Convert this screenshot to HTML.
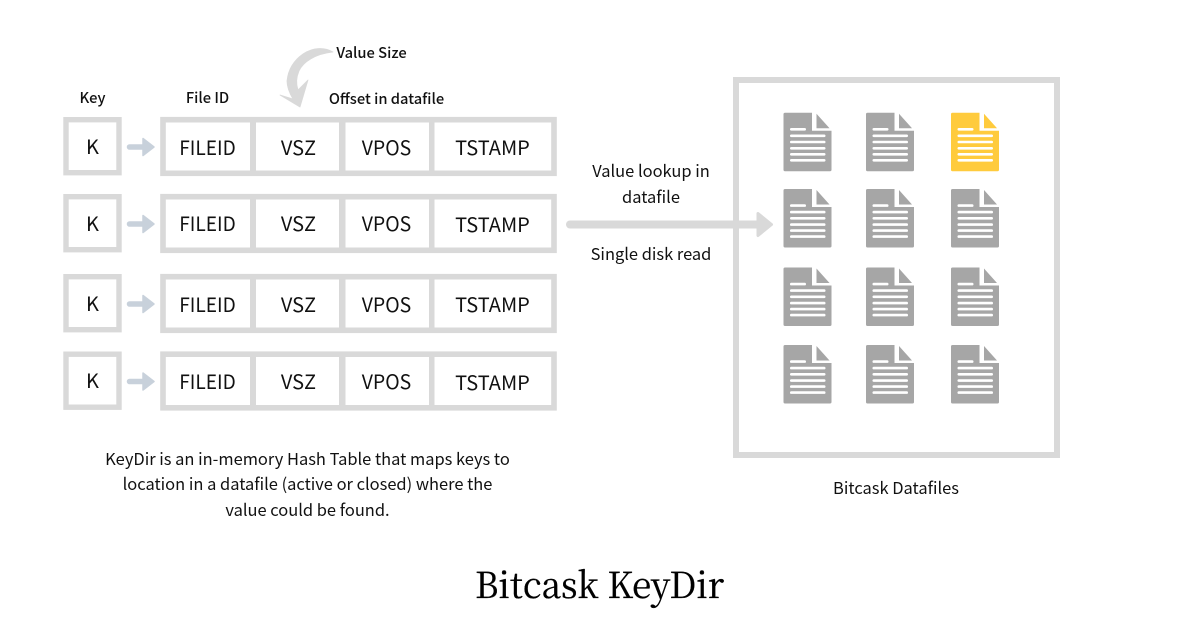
<!DOCTYPE html>
<html><head><meta charset="utf-8"><style>
html,body{margin:0;padding:0;background:#fff;width:1200px;height:628px;overflow:hidden}
svg{display:block}
text{font-family:"Noto Sans CJK JP","Liberation Sans",sans-serif;fill:#111;text-anchor:middle}
.b{font-size:14.7px;font-weight:500}
.c{font-size:20px}
.m{font-size:16.45px}
.t{font-family:"Noto Serif CJK SC","DejaVu Serif",serif;font-size:36px;fill:#000;stroke:#000;stroke-width:0.35px}
</style></head><body>
<svg width="1200" height="628" viewBox="0 0 1200 628" xmlns="http://www.w3.org/2000/svg">
<defs>
<g id="row">
<rect x="66" y="2.7" width="53" height="53" fill="none" stroke="#d9d9d9" stroke-width="5.4"/>
<rect x="163" y="2.7" width="391" height="53.6" fill="none" stroke="#d9d9d9" stroke-width="5.6"/>
<rect x="250" y="0" width="6" height="59" fill="#d9d9d9"/>
<rect x="339" y="0" width="6.5" height="59" fill="#d9d9d9"/>
<rect x="429" y="0" width="5.5" height="59" fill="#d9d9d9"/>
<path d="M129.5 30H143" stroke="#c8d1db" stroke-width="5.5" stroke-linecap="round"/>
<path d="M143 21.5L154 30L143 38.5Z" fill="#c8d1db" stroke="#c8d1db" stroke-width="1.5" stroke-linejoin="round"/>
</g>
<g id="doc">
<path d="M1 0H28.5V18H48V57a1.5 1.5 0 0 1-1.500 1.500H1.500A1.500 1.500 0 0 1 0 57V1.500A1.500 1.500 0 0 1 1.500 0Z"/>
<path d="M33 1L46 15.500H33Z"/>
<g fill="#fff">
<rect x="6.500" y="15.300" width="16" height="2.600" rx="1.300"/>
<rect x="6.500" y="21.800" width="35.500" height="2.600" rx="1.300"/>
<rect x="6.500" y="28" width="35.500" height="2.600" rx="1.300"/>
<rect x="6.500" y="34.300" width="35.500" height="2.600" rx="1.300"/>
<rect x="6.500" y="40.300" width="35.500" height="2.600" rx="1.300"/>
<rect x="6.500" y="46.300" width="35.500" height="2.600" rx="1.300"/>
</g>
</g>
</defs>

<use href="#row" y="117"/>
<use href="#row" y="194"/>
<use href="#row" y="274"/>
<use href="#row" y="351.500"/>

<g class="c">
<text x="92.500" y="154">K</text><text x="207.500" y="155" textLength="56.500" lengthAdjust="spacingAndGlyphs">FILEID</text><text x="298.500" y="155">VSZ</text><text x="386.500" y="155" textLength="49.500" lengthAdjust="spacingAndGlyphs">VPOS</text><text x="492.500" y="155">TSTAMP</text>
<text x="92.500" y="231">K</text><text x="207.500" y="231" textLength="56.500" lengthAdjust="spacingAndGlyphs">FILEID</text><text x="298.500" y="231">VSZ</text><text x="386.500" y="231" textLength="49.500" lengthAdjust="spacingAndGlyphs">VPOS</text><text x="492.500" y="232">TSTAMP</text>
<text x="92.500" y="311">K</text><text x="207.500" y="312" textLength="56.500" lengthAdjust="spacingAndGlyphs">FILEID</text><text x="298.500" y="312">VSZ</text><text x="386.500" y="312" textLength="49.500" lengthAdjust="spacingAndGlyphs">VPOS</text><text x="492.500" y="312">TSTAMP</text>
<text x="92.500" y="388">K</text><text x="207.500" y="389" textLength="56.500" lengthAdjust="spacingAndGlyphs">FILEID</text><text x="298.500" y="389">VSZ</text><text x="386.500" y="389" textLength="49.500" lengthAdjust="spacingAndGlyphs">VPOS</text><text x="492.500" y="390">TSTAMP</text>
</g>

<g class="b">
<text x="92.500" y="103">Key</text>
<text x="207.500" y="103">File ID</text>
<text x="386.500" y="104">Offset in datafile</text>
<text x="371.500" y="58">Value Size</text>
</g>

<path d="M333 52C325 47 313 47 303 54C293 61 288 71 287 81C287 88 290 94 293 99L280 95L300 107L308 80L298 90C296 84 296 78 299 71C303 62 315 54 333 52Z" fill="#d9d9d9" stroke="#d9d9d9" stroke-width="0.8" stroke-linejoin="round"/>

<rect x="736" y="80" width="321" height="375" fill="none" stroke="#d9d9d9" stroke-width="6"/>
<path d="M570 224.500H760" stroke="#d9d9d9" stroke-width="8" stroke-linecap="round"/>
<path d="M758 213.500L771.500 224.500L758 235.500Z" fill="#d9d9d9" stroke="#d9d9d9" stroke-width="3" stroke-linejoin="round"/>

<g fill="#a6a6a6">
<use href="#doc" x="783.500" y="112.700"/><use href="#doc" x="866" y="112.700"/>
<use href="#doc" x="783.500" y="189"/><use href="#doc" x="866" y="189"/><use href="#doc" x="951" y="189"/>
<use href="#doc" x="783.500" y="267.500"/><use href="#doc" x="866" y="267.500"/><use href="#doc" x="951" y="267.500"/>
<use href="#doc" x="783.500" y="345"/><use href="#doc" x="866" y="345"/><use href="#doc" x="951" y="345"/>
</g>
<g fill="#ffcb3d"><use href="#doc" x="951" y="112.700"/></g>

<g class="m">
<text x="651" y="177">Value lookup in</text>
<text x="651" y="203">datafile</text>
<text x="651" y="260">Single disk read</text>
<text x="307.500" y="465">KeyDir is an in-memory Hash Table that maps keys to</text>
<text x="307.500" y="490">location in a datafile (active or closed) where the</text>
<text x="307.500" y="516">value could be found.</text>
<text x="896" y="494">Bitcask Datafiles</text>
</g>

<text class="t" x="599.500" y="598" textLength="249" lengthAdjust="spacingAndGlyphs">Bitcask KeyDir</text>
</svg>
</body></html>
